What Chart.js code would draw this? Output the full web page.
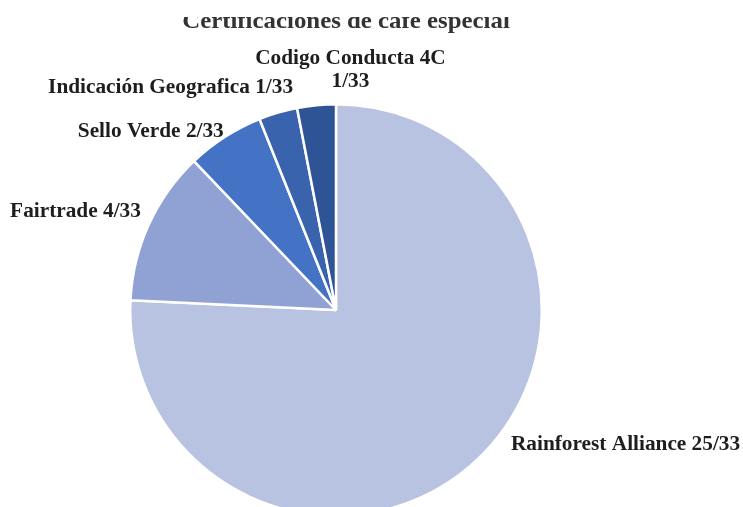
<!DOCTYPE html>
<html lang="es">
<head>
  <meta charset="UTF-8" />
  <title>Certificaciones de café especial</title>
  <script src="https://cdn.jsdelivr.net/npm/chart.js"></script>
  <style>
    html, body { margin: 0; padding: 0; background: #fff; }
    #wrap { width: 743px; height: 507px; overflow: hidden; position: relative; }
    canvas { position: absolute; left: 0; top: 0; }
  </style>
</head>
<body>
  <div id="wrap">
    <canvas id="pieChart" width="743" height="530"></canvas>
  </div>

  <script>
    const titleText = 'Certificaciones de café especial';
    const categories = ['Rainforest Alliance', 'Fairtrade', 'Sello Verde', 'Indicación Geografica', 'Codigo Conducta 4C'];
    const counts = [25, 4, 2, 1, 1];
    const total = 33;
    const sliceColors = ['#b8c2e1', '#8fa2d3', '#4472c4', '#3a63ae', '#2f5496'];

    // label placement relative to the outer edge of each slice: [dx, dy, align]
    const labelNudge = [
      [33, -14, 'left'],
      [-8, -13, 'right'],
      [-1, -5, 'right'],
      [15, -25, 'right'],
      [34, -46, 'center']
    ];

    const serif = '"Liberation Serif", "Times New Roman", serif';
    const stretch = 1.065; // the source text is a bit wide

    function wideText(ctx, txt, x, y, sx) {
      ctx.save();
      ctx.translate(x, y);
      ctx.scale(sx, 1);
      ctx.fillText(txt, 0, 0);
      ctx.restore();
    }

    const labelPlugin = {
      id: 'sliceLabels',
      afterDraw(chart) {
        const ctx = chart.ctx;
        const arcs = chart.getDatasetMeta(0).data;
        ctx.save();
        ctx.fillStyle = '#1e1e1e';
        ctx.font = 'bold 20px ' + serif;
        ctx.textBaseline = 'middle';
        arcs.forEach((arc, i) => {
          const mid = (arc.startAngle + arc.endAngle) / 2;
          const ax = arc.x + Math.cos(mid) * arc.outerRadius;
          const ay = arc.y + Math.sin(mid) * arc.outerRadius;
          const [dx, dy, align] = labelNudge[i];
          ctx.textAlign = align;
          const frac = counts[i] + '/' + total;
          if (i === 4) {
            wideText(ctx, categories[i], ax + dx, ay + dy, stretch);
            wideText(ctx, frac, ax + dx, ay + dy + 23, stretch);
          } else {
            wideText(ctx, categories[i] + ' ' + frac, ax + dx, ay + dy, stretch);
          }
        });
        // title, clipped at the top like the source image
        ctx.beginPath();
        ctx.rect(0, 17, chart.width, 40);
        ctx.clip();
        ctx.font = 'bold 23px ' + serif;
        ctx.fillStyle = '#333333';
        ctx.textAlign = 'center';
        ctx.textBaseline = 'alphabetic';
        wideText(ctx, titleText, 346, 28, 1.08);
        ctx.restore();
      }
    };

    new Chart(document.getElementById('pieChart').getContext('2d'), {
      type: 'pie',
      data: {
        labels: categories,
        datasets: [{
          data: counts,
          backgroundColor: sliceColors,
          borderColor: '#ffffff',
          borderWidth: 2.5
        }]
      },
      options: {
        responsive: false,
        animation: false,
        devicePixelRatio: 1,
        layout: { padding: { top: 103, bottom: 13, left: 0, right: 71 } },
        plugins: {
          legend: { display: false },
          tooltip: { enabled: false },
          title: { display: false }
        }
      },
      plugins: [labelPlugin]
    });
  </script>
</body>
</html>
